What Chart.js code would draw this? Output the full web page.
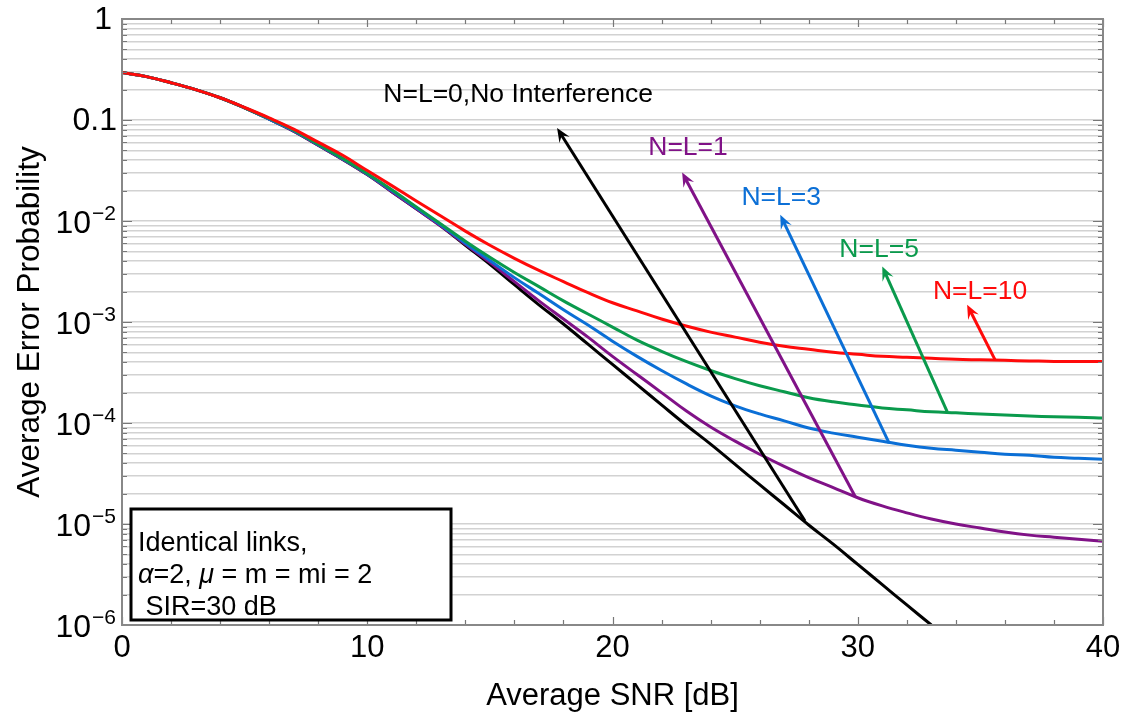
<!DOCTYPE html>
<html><head><meta charset="utf-8">
<script src="https://cdn.jsdelivr.net/npm/chart.js@4.4.1/dist/chart.umd.min.js"></script>
<style>html,body{margin:0;padding:0;background:#fff;}#wrap{width:1126px;height:717px;}</style>
</head><body><div id="wrap"><canvas id="c" width="1126" height="717"></canvas></div>
<script>
const FONT = '"Liberation Sans", Arial, sans-serif';

// ---- data ----
const snrDb = [0,1,2,3,4,5,6,7,8,9,10,11,12,13,14,15,16,17,18,19,20,21,22,23,24,25,26,27,28,29,30,31,32,33,34,35,36,37,38,39,40];

const perNL10 = [0.295,0.269,0.234,0.200,0.166,0.133,0.105,0.0813,0.0603,0.0447,0.0316,0.0224,0.0158,0.0112,7.94e-3,5.75e-3,4.27e-3,3.24e-3,2.51e-3,1.95e-3,1.55e-3,1.29e-3,1.07e-3,9.12e-4,7.94e-4,7.08e-4,6.31e-4,5.75e-4,5.37e-4,5.01e-4,4.79e-4,4.57e-4,4.47e-4,4.37e-4,4.27e-4,4.22e-4,4.17e-4,4.12e-4,4.07e-4,4.07e-4,4.07e-4];
const perNL5 = [0.295,0.269,0.234,0.200,0.166,0.132,0.1035,0.0794,0.0575,0.0417,0.0295,0.0204,0.0138,9.33e-3,6.31e-3,4.37e-3,3.09e-3,2.24e-3,1.62e-3,1.20e-3,8.91e-4,6.61e-4,5.13e-4,4.07e-4,3.31e-4,2.75e-4,2.34e-4,2.04e-4,1.78e-4,1.62e-4,1.51e-4,1.41e-4,1.35e-4,1.29e-4,1.26e-4,1.23e-4,1.20e-4,1.17e-4,1.15e-4,1.14e-4,1.12e-4];
const perNL3 = [0.295,0.269,0.234,0.200,0.166,0.132,0.102,0.0785,0.0569,0.0412,0.0292,0.0200,0.0135,9.12e-3,6.03e-3,4.07e-3,2.75e-3,1.91e-3,1.32e-3,9.33e-4,6.46e-4,4.57e-4,3.31e-4,2.45e-4,1.86e-4,1.48e-4,1.23e-4,1.05e-4,8.91e-5,7.94e-5,7.24e-5,6.61e-5,6.03e-5,5.62e-5,5.37e-5,5.13e-5,4.90e-5,4.79e-5,4.57e-5,4.47e-5,4.37e-5];
const perNL1 = [0.295,0.269,0.234,0.200,0.166,0.132,0.102,0.0776,0.0562,0.0407,0.0288,0.0195,0.0132,8.91e-3,5.89e-3,3.89e-3,2.51e-3,1.62e-3,1.07e-3,7.08e-4,4.57e-4,3.02e-4,2.00e-4,1.32e-4,9.12e-5,6.61e-5,4.90e-5,3.72e-5,2.88e-5,2.29e-5,1.82e-5,1.51e-5,1.29e-5,1.12e-5,1.00e-5,9.12e-6,8.32e-6,7.76e-6,7.41e-6,7.08e-6,6.76e-6];
const perNL0 = [0.295,0.269,0.234,0.200,0.166,0.132,0.102,0.0776,0.0562,0.0407,0.0288,0.0195,0.0132,8.91e-3,5.75e-3,3.72e-3,2.34e-3,1.48e-3,9.55e-4,6.03e-4,3.80e-4,2.40e-4,1.51e-4,9.55e-5,6.17e-5,3.89e-5,2.45e-5,1.55e-5,9.77e-6,6.31e-6,3.98e-6,2.51e-6,1.58e-6,1.00e-6];

const seriesNames = ['N=L=10','N=L=5','N=L=3','N=L=1','N=L=0,No Interference'];
const seriesColors = ['#ff0a0a','#0a9a4c','#0b6fd6','#801287','#000000'];
const seriesValues = [perNL10, perNL5, perNL3, perNL1, perNL0];

const xMajorTicks = [0,10,20,30,40];
const xMinorStep = 2;
const yDecadeExponents = [0,-1,-2,-3,-4,-5,-6];
const yMinorMultipliers = [2,3,4,5,6,7,8,9];

// annotation arrows: [snr, probability] for tail (on curve) and tip
const arrowTails = [[35.6,4.22e-4],[33.65,1.29e-4],[31.28,6.31e-5],[29.9,1.86e-5],[27.85,1.07e-5]];
const arrowTips  = [[34.46,1.48e-3],[31.0,3.55e-3],[26.84,1.15e-2],[22.84,3.02e-2],[17.74,8.32e-2]];
const labelCenters = [[34.99,1.99e-3],[30.87,5.2e-3],[26.88,1.70e-2],[23.08,5.32e-2],[16.15,0.179]];

const boxLines = [
  [['Identical links,', false]],
  [['\u03B1', true],['=2, ', false],['\u03BC', true],[' = m = mi = 2', false]],
  [[' SIR=30 dB', false]]
];

// ---- drawing helpers ----
function drawArrow(ctx, x1, y1, x2, y2, color){
  const ang = Math.atan2(y2 - y1, x2 - x1);
  const c = Math.cos(ang), s = Math.sin(ang);
  const L = 14, W = 6;
  ctx.strokeStyle = color; ctx.fillStyle = color; ctx.lineWidth = 3; ctx.lineCap = 'butt';
  ctx.beginPath(); ctx.moveTo(x1, y1); ctx.lineTo(x2 - c*7, y2 - s*7); ctx.stroke();
  const bx = x2 - c*L, by = y2 - s*L, nx = -s, ny = c;
  ctx.beginPath();
  ctx.moveTo(x2, y2);
  ctx.lineTo(bx + nx*W, by + ny*W);
  ctx.lineTo(x2 - c*L*0.62, y2 - s*L*0.62);
  ctx.lineTo(bx - nx*W, by - ny*W);
  ctx.closePath(); ctx.fill();
}

const overlay = {
  id: 'overlay',
  afterDatasetsDraw(chart){
    const {ctx, scales: {x, y}} = chart;
    ctx.save();
    for (let i = 0; i < seriesNames.length; i++){
      const t = arrowTails[i], p = arrowTips[i];
      drawArrow(ctx, x.getPixelForValue(t[0]), y.getPixelForValue(t[1]), x.getPixelForValue(p[0]), y.getPixelForValue(p[1]), seriesColors[i]);
      ctx.fillStyle = seriesColors[i];
      ctx.font = '26.5px ' + FONT;
      ctx.textAlign = 'center'; ctx.textBaseline = 'middle';
      ctx.fillText(seriesNames[i], x.getPixelForValue(labelCenters[i][0]), y.getPixelForValue(labelCenters[i][1]));
    }
    ctx.restore();
  },
  afterDraw(chart){
    const {ctx, chartArea: a, scales: {x, y}} = chart;
    ctx.save();
    ctx.strokeStyle = '#777'; ctx.lineWidth = 1.2;
    for (let v = x.min; v <= x.max + 1e-9; v += xMinorStep){
      const px = Math.round(x.getPixelForValue(v)) + 0.5;
      const len = xMajorTicks.includes(v) ? 8 : 5;
      ctx.beginPath();
      ctx.moveTo(px, a.bottom); ctx.lineTo(px, a.bottom - len);
      ctx.moveTo(px, a.top); ctx.lineTo(px, a.top + len);
      ctx.stroke();
    }
    y.ticks.forEach(t => {
      const py = Math.round(y.getPixelForValue(t.value)) + 0.5;
      const len = t.major ? 10 : 5;
      ctx.beginPath();
      ctx.moveTo(a.left, py); ctx.lineTo(a.left + len, py);
      ctx.moveTo(a.right, py); ctx.lineTo(a.right - len, py);
      ctx.stroke();
    });
    ctx.strokeStyle = '#888'; ctx.lineWidth = 2;
    ctx.strokeRect(a.left, a.top, a.right - a.left, a.bottom - a.top);

    // y tick labels (powers of ten)
    ctx.fillStyle = '#000';
    const rx = a.left - 6;
    yDecadeExponents.forEach(e => {
      const py = y.getPixelForValue(Math.pow(10, e));
      ctx.textAlign = 'right';
      if (e === 0 || e === -1){
        ctx.font = '32px ' + FONT; ctx.textBaseline = 'middle';
        ctx.fillText(e === 0 ? '1' : '0.1', e === 0 ? rx - 4 : rx + 1, py + 1);
      } else {
        const sup = '\u2212' + String(-e);
        ctx.font = '21px ' + FONT; ctx.textBaseline = 'alphabetic';
        const sw = ctx.measureText(sup).width;
        ctx.fillText(sup, rx, py - 1);
        ctx.font = '32px ' + FONT; ctx.textBaseline = 'middle';
        ctx.fillText('10', rx - sw - 1, py + 3);
      }
    });

    // info box
    const bx = a.left + 9, bw = 320, bh = 111, by = a.bottom - 116;
    ctx.fillStyle = '#fff';
    ctx.fillRect(bx, by, bw, bh);
    ctx.strokeStyle = '#000'; ctx.lineWidth = 3;
    ctx.strokeRect(bx, by, bw, bh);
    ctx.fillStyle = '#000'; ctx.textAlign = 'left'; ctx.textBaseline = 'alphabetic';
    boxLines.forEach((segs, i) => {
      let cx = bx + 7;
      const base = by + 42 + i * 32;
      segs.forEach(([txt, it]) => {
        ctx.font = (it ? 'italic ' : '') + '27px ' + FONT;
        ctx.fillText(txt, cx, base);
        cx += ctx.measureText(txt).width;
      });
    });
    ctx.restore();
  }
};

const datasets = seriesValues.map((vals, i) => ({
  label: seriesNames[i],
  data: vals.map((v, j) => ({x: snrDb[j], y: v})),
  borderColor: seriesColors[i],
  borderWidth: 3,
  pointRadius: 0,
  fill: false,
  tension: 0.4
}));

new Chart(document.getElementById('c'), {
  type: 'line',
  data: {datasets},
  options: {
    responsive: false,
    animation: false,
    devicePixelRatio: 1,
    layout: {padding: {left: 0, right: 23, top: 19, bottom: 0}},
    plugins: {legend: {display: false}, tooltip: {enabled: false}},
    scales: {
      x: {
        type: 'linear', min: 0, max: 40,
        afterBuildTicks: s => { s.ticks = xMajorTicks.map(v => ({value: v})); },
        afterFit: s => { s.height = 92; },
        grid: {display: false, drawTicks: false},
        border: {display: false},
        ticks: {font: {family: FONT, size: 31}, color: '#000', padding: 5, maxRotation: 0, autoSkip: false},
        title: {display: true, text: 'Average SNR [dB]', font: {family: FONT, size: 31}, color: '#000', padding: {top: 0, bottom: 2}}
      },
      y: {
        type: 'logarithmic', min: 1e-6, max: 1,
        afterBuildTicks: s => {
          const t = [];
          yDecadeExponents.forEach(e => {
            t.push({value: Math.pow(10, e), major: true});
            if (e > -6) yMinorMultipliers.forEach(m => t.push({value: m * Math.pow(10, e - 1), major: false}));
          });
          s.ticks = t.sort((p, q) => p.value - q.value);
        },
        afterFit: s => { s.width = 122; },
        grid: {color: '#d2d2d2', lineWidth: 1.5, drawTicks: false},
        border: {display: false},
        ticks: {display: false},
        title: {display: true, text: 'Average Error Probability', font: {family: FONT, size: 31.5}, color: '#000', padding: {top: 11, bottom: 0}}
      }
    }
  },
  plugins: [overlay]
});
</script>
</body></html>
